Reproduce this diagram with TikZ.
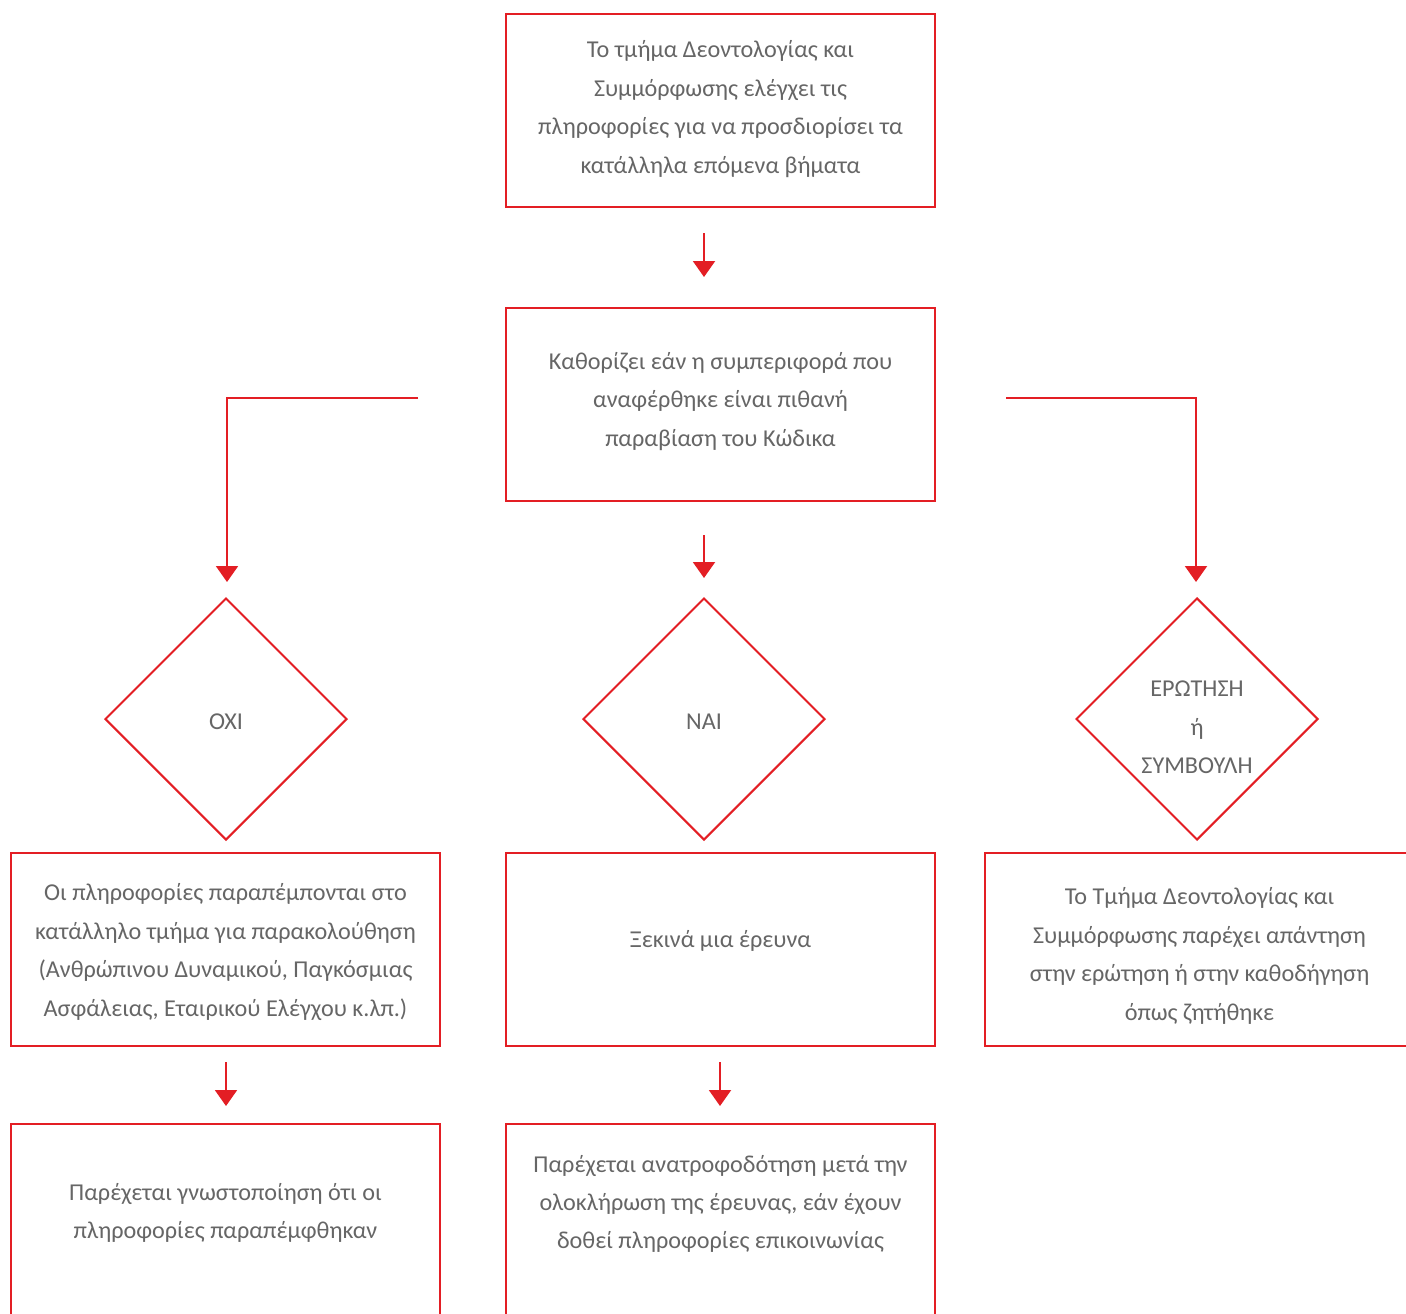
\documentclass[tikz,border=0pt]{standalone}
\usepackage{fontspec}
\setmainfont{Carlito}
\usetikzlibrary{arrows.meta,shapes.geometric}
\definecolor{vred}{HTML}{E31E24}
\definecolor{vgray}{HTML}{666666}
\newcommand{\fsz}{\fontsize{12.1}{19.2}\selectfont}
\tikzset{
  box/.style={draw=vred, line width=1pt, minimum width=214.5pt, minimum height=96.5pt, inner sep=0pt},
  txt/.style={align=center, text=vgray, font=\fsz, inner sep=0pt},
  dia/.style={diamond, draw=vred, line width=1pt, minimum width=121pt, minimum height=121pt, inner sep=0pt},
  arr/.style={draw=vred, line width=1pt, -{Triangle[width=11pt,length=8pt]}}
}
\begin{document}
\begin{tikzpicture}[x=0.5pt,y=-0.5pt]
\useasboundingbox (0,0) rectangle (1406,1313);
\clip (0,0) rectangle (1406,1313);
\fill[white] (0,0) rectangle (1406,1313);

\node[box] (A) at (720.5,110.5) {};
\node[txt] (At) at (720.5,109) {Το τμήμα Δεοντολογίας και\\Συμμόρφωσης ελέγχει τις\\πληροφορίες για να προσδιορίσει τα\\κατάλληλα επόμενα βήματα};
\node[box] (B) at (720.5,404) {};
\node[txt] (Bt) at (720.5,401.5) {Καθορίζει εάν η συμπεριφορά που\\αναφέρθηκε είναι πιθανή\\παραβίαση του Κώδικα};

\node[dia] (D1) at (226,719) {};
\node[txt] (D1t) at (226,722) {ΟΧΙ};
\node[dia] (D2) at (704,719) {};
\node[txt] (D2t) at (704,722) {ΝΑΙ};
\node[dia] (D3) at (1197,719) {};
\node[txt] (D3t) at (1197,727.5) {ΕΡΩΤΗΣΗ\\ή\\ΣΥΜΒΟΥΛΗ};

\node[box] (C) at (225.5,949.5) {};
\node[txt] (Ct) at (225.5,952) {Οι πληροφορίες παραπέμπονται στο\\κατάλληλο τμήμα για παρακολούθηση\\(Ανθρώπινου Δυναμικού, Παγκόσμιας\\Ασφάλειας, Εταιρικού Ελέγχου κ.λπ.)};
\node[box] (D) at (720.5,949.5) {};
\node[txt] (Dt) at (720.5,940.5) {Ξεκινά μια έρευνα};
\node[box] (E) at (1199.5,949.5) {};
\node[txt] (Et) at (1199.5,956) {Το Τμήμα Δεοντολογίας και\\Συμμόρφωσης παρέχει απάντηση\\στην ερώτηση ή στην καθοδήγηση\\όπως ζητήθηκε};

\node[box] (F) at (225.5,1220.5) {};
\node[txt] (Ft) at (225.5,1213) {Παρέχεται γνωστοποίηση ότι οι\\πληροφορίες παραπέμφθηκαν};
\node[box] (G) at (720.5,1220.5) {};
\node[txt] (Gt) at (720.5,1204) {Παρέχεται ανατροφοδότηση μετά την\\ολοκλήρωση της έρευνας, εάν έχουν\\δοθεί πληροφορίες επικοινωνίας};

% connector end points
\coordinate (a1) at (704,233);  \coordinate (a2) at (704,277);
\coordinate (b1) at (704,535);  \coordinate (b2) at (704,578);
\coordinate (l1) at (418,398);  \coordinate (l2) at (227,398); \coordinate (l3) at (227,582);
\coordinate (r1) at (1006,398); \coordinate (r2) at (1196,398); \coordinate (r3) at (1196,582);
\coordinate (c1) at (226,1062); \coordinate (c2) at (226,1106);
\coordinate (d1) at (720,1062); \coordinate (d2) at (720,1106);

\draw[arr] (a1) -- (a2);
\draw[arr] (b1) -- (b2);
\draw[arr] (l1) -- (l2) -- (l3);
\draw[arr] (r1) -- (r2) -- (r3);
\draw[arr] (c1) -- (c2);
\draw[arr] (d1) -- (d2);
\end{tikzpicture}
\end{document}
